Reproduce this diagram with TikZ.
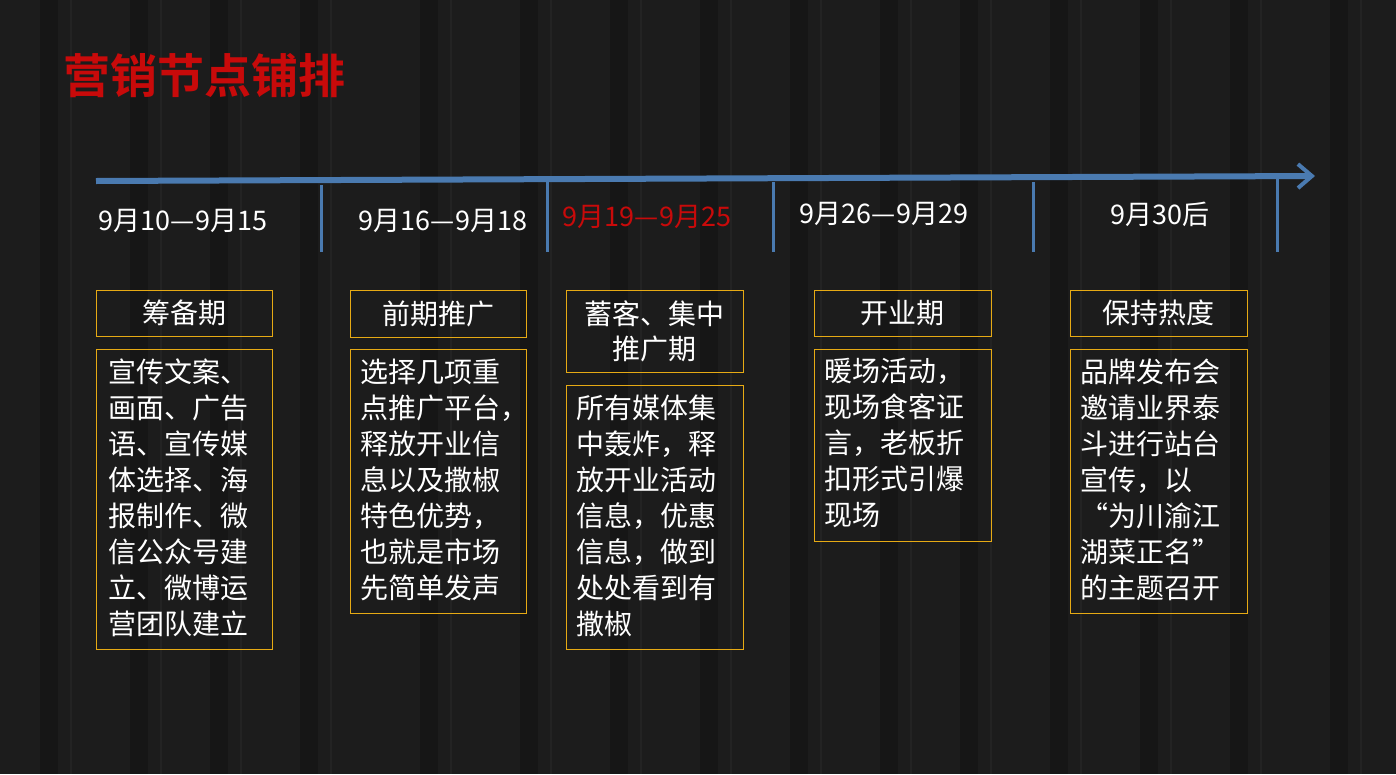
\documentclass[tikz,border=0pt]{standalone}
\usepackage{fontspec}
\setmainfont{Noto Sans CJK SC}
\newfontfamily\boldcjk{Noto Sans CJK SC Bold}
\usetikzlibrary{arrows.meta}
\definecolor{axis}{RGB}{74,122,176}
\definecolor{boxline}{RGB}{230,170,20}
\definecolor{titlered}{RGB}{200,10,10}
\definecolor{bg}{RGB}{28,28,28}
\begin{document}
\begin{tikzpicture}[x=1pt,y=-1pt,
  datelbl/.style={text=white,font=\fontsize{27}{30}\selectfont,anchor=center},
  headbox/.style={draw=boxline,line width=1pt,text=white,font=\fontsize{28}{35}\selectfont,align=center,inner sep=0pt},
  bodytext/.style={text=white,font=\fontsize{28}{36}\selectfont,align=left,anchor=north west},
  tick/.style={draw=axis,line width=3pt}]
\fill[bg] (0,0) rectangle (1396,774);
\foreach \x in {40,130,210,300,420,520,610,700,790,880,960,1050,1140,1230,1330}
  {\fill[black,opacity=0.2] (\x,0) rectangle (\x+18,774);
   \fill[white,opacity=0.03] (\x+30,0) rectangle (\x+32,774);}
\useasboundingbox (0,0) rectangle (1396,774);
\node[anchor=west,text=titlered,font=\boldcjk\fontsize{47}{52}\selectfont,inner sep=0pt] (title) at (63,76) {营销节点铺排};
\coordinate (a0) at (96,181);
\coordinate (a1) at (1315,176);
\draw[axis,line width=6pt,-{Straight Barb[length=14pt,width=24pt,line width=4pt]}] (a0) -- (a1);
\foreach \n/\x/\ya in {t1/321/185,t2/547/178,t3/773/182,t4/1033/182,t5/1277/178}
  {\coordinate (\n a) at (\x,\ya); \coordinate (\n b) at (\x,252); \draw[tick] (\n a) -- (\n b);}
\node[datelbl] (d1) at (183,221) {9月10—9月15};
\node[datelbl] (d2) at (443,221) {9月16—9月18};
\node[datelbl,text=titlered] (d3) at (647,217) {9月19—9月25};
\node[datelbl] (d4) at (884,214) {9月26—9月29};
\node[datelbl] (d5) at (1160,214) {9月30后};
\node[headbox,minimum width=176pt,minimum height=46pt] (h1) at (184,313) {筹备期};
\node[headbox,minimum width=176pt,minimum height=47pt] (h2) at (438,314) {前期推广};
\node[headbox,minimum width=177pt,minimum height=82pt] (h3) at (654.5,331) {蓄客、集中\\推广期};
\node[headbox,minimum width=177pt,minimum height=46pt] (h4) at (902.5,313) {开业期};
\node[headbox,minimum width=177pt,minimum height=46pt] (h5) at (1158.5,313) {保持热度};
\draw[boxline,line width=1pt] (96,349) rectangle (272,649);
\node[bodytext] (b1) at (105,355) {宣传文案、\\画面、广告\\语、宣传媒\\体选择、海\\报制作、微\\信公众号建\\立、微博运\\营团队建立};
\draw[boxline,line width=1pt] (350,349) rectangle (526,613);
\node[bodytext] (b2) at (357,355) {选择几项重\\点推广平台，\\释放开业信\\息以及撒椒\\特色优势，\\也就是市场\\先简单发声};
\draw[boxline,line width=1pt] (566,385) rectangle (743,649);
\node[bodytext] (b3) at (573,391) {所有媒体集\\中轰炸，释\\放开业活动\\信息，优惠\\信息，做到\\处处看到有\\撒椒};
\draw[boxline,line width=1pt] (814,349) rectangle (991,541);
\node[bodytext] (b4) at (821,355) {暖场活动，\\现场食客证\\言，老板折\\扣形式引爆\\现场};
\draw[boxline,line width=1pt] (1070,349) rectangle (1247,613);
\node[bodytext] (b5) at (1077,355) {品牌发布会\\邀请业界泰\\斗进行站台\\宣传，以\\“为川渝江\\湖菜正名”\\的主题召开};
\end{tikzpicture}
\end{document}
